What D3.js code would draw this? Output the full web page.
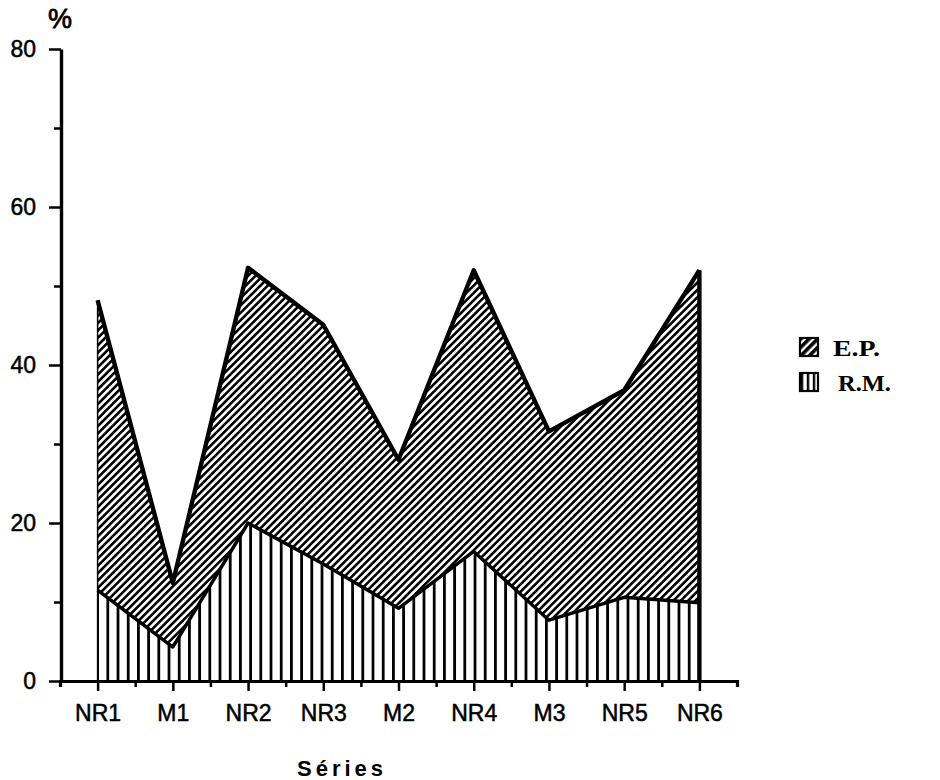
<!DOCTYPE html>
<html>
<head>
<meta charset="utf-8">
<script src="https://cdn.jsdelivr.net/npm/d3@7"></script>
<style>
  html, body { margin: 0; padding: 0; background: #fff; }
  svg { display: block; }
  .tick text { font-family: "Liberation Sans", Arial, sans-serif; }
</style>
</head>
<body>
<svg id="chart" width="940" height="780"></svg>
<script>
// ---- data ----
const categories = ["NR1", "M1", "NR2", "NR3", "M2", "NR4", "M3", "NR5", "NR6"];
const rmValues   = [11.5, 4.3, 20.0, 14.8, 9.2, 16.4, 7.7, 10.6, 9.9];   // R.M. (lower band)
const epValues   = [36.7, 8.1, 32.3, 30.3, 18.8, 35.6, 23.9, 26.2, 42.1]; // E.P. (stacked on R.M.)
const yMajorTicks = [0, 20, 40, 60, 80];
const yMinorTicks = [10, 30, 50, 70];
const legendLabels = ["E.P.", "R.M."];

// ---- setup ----
const svg = d3.select("#chart");
const x = d3.scaleLinear().domain([-0.5, categories.length - 0.5]).range([60, 737]);
const y = d3.scaleLinear().domain([0, 80]).range([681, 49]);

const rows = categories.map((c, i) => ({ i, cat: c, rm: rmValues[i], ep: epValues[i] }));
const stacked = d3.stack().keys(["rm", "ep"])(rows);

// ---- patterns ----
const defs = svg.append("defs");
const step = (x(categories.length - 1) - x(0)) / 59;
const vp = defs.append("pattern")
  .attr("id", "vert").attr("patternUnits", "userSpaceOnUse")
  .attr("x", x(0) - 1.4).attr("y", 0)
  .attr("width", step).attr("height", 20);
vp.append("rect").attr("x", 0).attr("y", 0).attr("width", 2.8).attr("height", 20).attr("fill", "#000");

const dp = defs.append("pattern")
  .attr("id", "diag").attr("patternUnits", "userSpaceOnUse")
  .attr("width", 5.2).attr("height", 10)
  .attr("patternTransform", "rotate(45)");
dp.append("rect").attr("x", 0).attr("y", 0).attr("width", 2.6).attr("height", 10).attr("fill", "#000");

const ldp = defs.append("pattern")
  .attr("id", "ldiag").attr("patternUnits", "userSpaceOnUse")
  .attr("width", 6).attr("height", 10)
  .attr("patternTransform", "rotate(45)");
ldp.append("rect").attr("x", 0).attr("y", 0).attr("width", 3.6).attr("height", 10).attr("fill", "#000");

const lvp = defs.append("pattern")
  .attr("id", "lvert").attr("patternUnits", "userSpaceOnUse")
  .attr("x", 800 + 0.8).attr("y", 0)
  .attr("width", 6).attr("height", 20);
lvp.append("rect").attr("x", 0).attr("y", 0).attr("width", 2.4).attr("height", 20).attr("fill", "#000");

// ---- areas ----
const area = d3.area()
  .x(d => x(d.data.i))
  .y0(d => y(d[0]))
  .y1(d => y(d[1]));

svg.append("path").datum(stacked[0]).attr("d", area).attr("fill", "url(#vert)");
svg.append("path").datum(stacked[1]).attr("d", area).attr("fill", "url(#diag)");

// ---- outlines ----
const line = d3.line().x(d => x(d.data.i)).y(d => y(d[1]));
svg.append("path").datum(stacked[0]).attr("d", line)
  .attr("fill", "none").attr("stroke", "#000").attr("stroke-width", 3.4).attr("stroke-linejoin", "round");
svg.append("path").datum(stacked[1]).attr("d", line)
  .attr("fill", "none").attr("stroke", "#000").attr("stroke-width", 4.4).attr("stroke-linejoin", "round");

// left edge (thin) and right edge (thick)
const first = stacked[1][0], last = stacked[1][categories.length - 1];
svg.append("line")
  .attr("x1", x(first.data.i)).attr("x2", x(first.data.i))
  .attr("y1", y(first[1])).attr("y2", y(0))
  .attr("stroke", "#000").attr("stroke-width", 1.5);
svg.append("line")
  .attr("x1", x(last.data.i)).attr("x2", x(last.data.i))
  .attr("y1", y(last[1])).attr("y2", y(0))
  .attr("stroke", "#000").attr("stroke-width", 4.4);

// ---- axes ----
const font = "'Liberation Sans', Arial, sans-serif";

// y minor
const yMinor = svg.append("g").attr("transform", `translate(${x(-0.5) + 1},0)`)
  .call(d3.axisLeft(y).tickValues(yMinorTicks).tickSize(7).tickFormat(""));
yMinor.select(".domain").remove();
yMinor.selectAll(".tick line").attr("stroke-width", 2.5);

// y major
const yMajor = svg.append("g").attr("transform", `translate(${x(-0.5) + 1},0)`)
  .call(d3.axisLeft(y).tickValues(yMajorTicks).tickSize(12).tickSizeOuter(0).tickPadding(13));
yMajor.select(".domain").attr("stroke-width", 3.4);
yMajor.selectAll(".tick line").attr("stroke-width", 2.5);
yMajor.selectAll(".tick text").attr("font-size", 23).attr("font-family", font).attr("fill", "#000")
  .attr("stroke", "#000").attr("stroke-width", 0.5);

// x minor (half steps)
const xMinor = svg.append("g").attr("transform", `translate(0,${y(0)})`)
  .call(d3.axisBottom(x).tickValues(d3.range(-0.5, categories.length + 0.5, 1)).tickSize(6).tickFormat(""));
xMinor.select(".domain").attr("stroke-width", 3.2);
xMinor.selectAll(".tick line").attr("stroke-width", 2.5);

// x major (categories)
const xMajor = svg.append("g").attr("transform", `translate(0,${y(0)})`)
  .call(d3.axisBottom(x).tickValues(categories.map((c, i) => i))
    .tickFormat(i => categories[i]).tickSize(10).tickPadding(14));
xMajor.select(".domain").remove();
xMajor.selectAll(".tick line").attr("stroke-width", 2.5);
xMajor.selectAll(".tick text").attr("font-size", 23).attr("font-family", font).attr("fill", "#000")
  .attr("stroke", "#000").attr("stroke-width", 0.5);

// ---- titles ----
svg.append("text").text("%")
  .attr("x", 60).attr("y", 28).attr("text-anchor", "middle")
  .attr("font-family", font).attr("font-size", 27)
  .attr("stroke", "#000").attr("stroke-width", 0.8);

svg.append("text").text("Séries")
  .attr("x", 342).attr("y", 776).attr("text-anchor", "middle")
  .attr("font-family", font).attr("font-size", 22).attr("font-weight", "bold")
  .attr("letter-spacing", 4);

// ---- legend ----
const legend = svg.append("g");
const legendFills = ["url(#ldiag)", "url(#lvert)"];
legendLabels.forEach((lab, k) => {
  const yy = 338 + k * 35;
  legend.append("rect").attr("x", 800).attr("y", yy).attr("width", 18).attr("height", 18)
    .attr("fill", legendFills[k]).attr("stroke", "#000").attr("stroke-width", 2.2);
  legend.append("text").text(lab)
    .attr("x", k === 0 ? 833 : 838).attr("y", yy + 18)
    .attr("font-family", "'Liberation Serif', 'Times New Roman', serif")
    .attr("font-weight", "bold").attr("font-size", 23)
    .attr("textLength", k === 0 ? 47 : 53).attr("lengthAdjust", "spacingAndGlyphs");
});
</script>
</body>
</html>
